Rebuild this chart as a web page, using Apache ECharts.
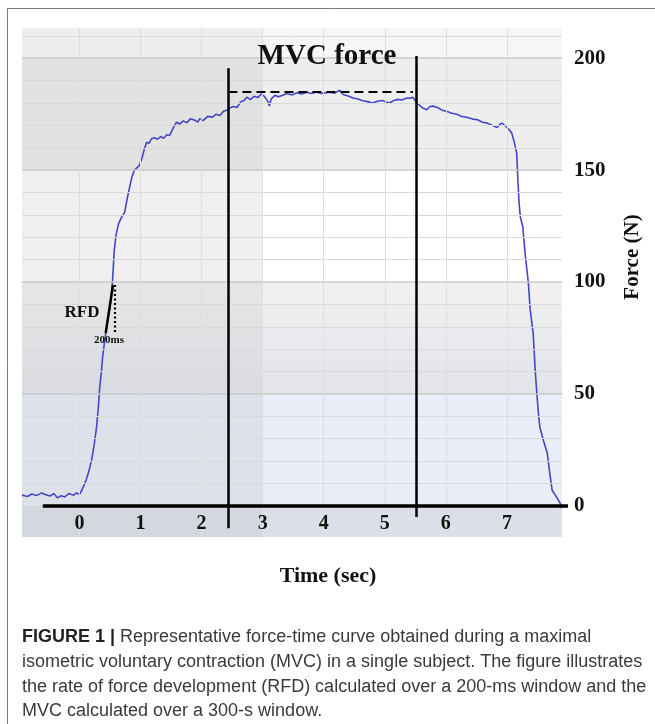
<!DOCTYPE html>
<html>
<head>
<meta charset="utf-8">
<script src="https://cdn.jsdelivr.net/npm/echarts@6.0.0/dist/echarts.min.js"></script>
<style>
  html, body { margin: 0; padding: 0; background: #fff; }
  #main { width: 655px; height: 724px; }
</style>
</head>
<body>
<div id="main"></div>
<script>
// 力-时间曲线
var timeVals = [-0.94,-0.85,-0.78,-0.7,-0.62,-0.55,-0.48,-0.42,-0.36,-0.3,-0.24,-0.17,-0.1,-0.05,0.0,
  0.04,0.08,0.11,0.15,0.2,0.24,0.28,0.31,0.33,0.36,0.38,0.41,0.44,0.47,0.49,0.52,0.54,0.57,0.6,0.64,
  0.69,0.74,0.78,0.82,0.86,0.9,0.94,0.98,1.02,1.06,1.1,1.14,1.18,1.23,1.28,1.33,1.38,1.43,1.48,1.52,
  1.56,1.59,1.64,1.7,1.76,1.82,1.88,1.94,1.97,2.03,2.1,2.18,2.24,2.3,2.36,2.42,2.46,2.52,2.58,2.64,
  2.7,2.74,2.8,2.86,2.92,2.98,3.03,3.06,3.09,3.11,3.14,3.2,3.26,3.33,3.4,3.48,3.56,3.64,3.72,3.8,
  3.88,3.96,4.04,4.1,4.18,4.26,4.32,4.4,4.48,4.56,4.64,4.72,4.8,4.88,4.96,5.02,5.08,5.14,5.2,5.28,
  5.36,5.42,5.46,5.5,5.56,5.62,5.69,5.74,5.79,5.86,5.94,6.02,6.1,6.18,6.26,6.34,6.44,6.52,6.6,6.68,
  6.76,6.84,6.88,6.92,6.98,7.04,7.08,7.12,7.16,7.18,7.2,7.22,7.26,7.3,7.35,7.38,7.43,7.46,7.49,7.52,
  7.54,7.6,7.66,7.7,7.74,7.8,7.87,7.9];
var forceVals = [4.8,4.2,5.3,4.6,5.8,5.0,4.4,5.5,3.6,4.5,4.0,5.6,4.7,5.8,5.2,
  7.0,9.5,11.6,15,20.5,27,35,44,52,60,66.5,73,78.6,84,87.5,93,99.5,114,121,126,
  129,131,137,142,147,150,151,152,155,159,162.5,162,164,164.5,163.8,165,164.2,165.8,165.6,168,
  170,171.4,170.6,172,171.2,173,172.4,171.5,173,172.2,174,173.7,175,174.4,176.3,176.9,177.7,178.4,178,180.5,
  181.2,182.6,181.5,183,182.4,184,182.9,183.5,180.5,178.6,181.8,183.4,182.8,183.5,184.2,183.6,184.6,184,184.8,184.2,
  184.9,184.3,184.6,184.8,184.4,185.7,183.8,183.1,182.2,181.8,181,180.6,180,180.8,181.1,180.4,180,181,181.6,181.3,
  182.2,182.1,182.6,181,179.2,177.8,177,178.4,178.6,178,176.8,176.2,175.4,175,174,173.6,172.8,172.5,171.4,171,
  170,169,170.4,171,169.6,168,166.5,162.5,157.6,145,135,129,124.6,112,100,88,77,62,50,40,
  35,29,23.7,15,7,4.5,1.3,-1];

var xTicks = [0, 1, 2, 3, 4, 5, 6, 7];
var yTicks = [0, 50, 100, 150, 200];
var minorGrid = [10, 20, 30, 40, 60, 70, 80, 90, 110, 120, 130, 140, 160, 170, 180, 190, 210];

// MVC 窗口与 RFD 标注
var mvcWindow = [2.44, 5.51];
var mvcLevel = 184.8;
var rfdLine = [[0.43, 77.2], [0.55, 98.7]];
var rfdDot = [[0.58, 77.7], [0.58, 98.7]];

var X_MIN = -0.94, X_MAX = 8.0, PLOT_END = 7.9, Y_MIN = -13.9, Y_MAX = 213.5;

var curve = timeVals.map(function (t, i) { return [t, forceVals[i]]; });

// 背景色块 (左半 / 右半, 以 3 s 为界)
function band(y0, y1, left, right) {
  return [
    [{ xAxis: X_MIN, yAxis: y1, itemStyle: { color: left } }, { xAxis: 3, yAxis: y0 }],
    [{ xAxis: 3, yAxis: y1, itemStyle: { color: right } }, { xAxis: PLOT_END, yAxis: y0 }]
  ];
}
function grad(a, b) {
  return { type: 'linear', x: 0, y: 0, x2: 0, y2: 1, colorStops: [{ offset: 0, color: a }, { offset: 1, color: b }] };
}
var bands = [].concat(
  band(200, Y_MAX, '#eeeeee', '#f6f6f6'),
  band(150, 200, '#e2e2e2', '#eeeeee'),
  band(100, 150, '#efefef', '#ffffff'),
  band(50, 100, grad('#e6e6e6', '#d9dbe0'), grad('#f1f1f1', '#e2e4ea')),
  band(0, 50, '#dde2ea', '#e9eef8'),
  band(Y_MIN, 0, '#d4d7de', '#dcdfe7')
);

// 网格线 (只在绘图区内)
var gridLines = [];
minorGrid.forEach(function (v) {
  gridLines.push([{ coord: [X_MIN, v], lineStyle: { color: '#dadada', width: 1, type: 'solid' } }, { coord: [PLOT_END, v] }]);
});
yTicks.slice(1).forEach(function (v) {
  gridLines.push([{ coord: [X_MIN, v], lineStyle: { color: '#c8c8c8', width: 1.5, type: 'solid' } }, { coord: [PLOT_END, v] }]);
});
xTicks.forEach(function (v) {
  gridLines.push([{ coord: [v, Y_MIN], lineStyle: { color: '#dedede', width: 1, type: 'solid' } }, { coord: [v, Y_MAX] }]);
});

var serif = 'Liberation Serif';
var myChart = echarts.init(document.getElementById('main'));
option = {
  backgroundColor: '#ffffff',
  animation: false,
  grid: { left: 22, right: 87, top: 28, bottom: 187 },
  xAxis: {
    type: 'value', min: X_MIN, max: X_MAX, offset: -31, z: 10,
    axisLine: { show: false, onZero: false },
    axisTick: { show: false },
    splitLine: { show: false },
    axisLabel: {
      customValues: xTicks, margin: 8,
      color: '#111', fontFamily: serif, fontWeight: 'bold', fontSize: 20
    }
  },
  yAxis: {
    type: 'value', position: 'right', offset: -6, min: Y_MIN, max: Y_MAX,
    axisLine: { show: false, onZero: false },
    axisTick: { show: false },
    splitLine: { show: false },
    axisLabel: {
      customValues: yTicks, margin: 12,
      color: '#111', fontFamily: serif, fontWeight: 'bold', fontSize: 21
    }
  },
  series: [
    {
      // 背景和网格
      type: 'line', z: 1, silent: true, showSymbol: false,
      data: [[0, 0]], lineStyle: { opacity: 0 },
      markArea: { silent: true, data: bands },
      markLine: { silent: true, symbol: 'none', label: { show: false }, data: gridLines }
    },
    {
      name: 'Force', type: 'line', z: 3, showSymbol: false, smooth: false,
      data: curve,
      lineStyle: { color: '#4646c4', width: 1.6 }
    },
    {
      // 标注线
      type: 'line', z: 4, silent: true, showSymbol: false,
      data: [[0, 0]], lineStyle: { opacity: 0 },
      markLine: {
        silent: true, symbol: 'none', label: { show: false },
        data: [
          [{ coord: [-0.6, 0], lineStyle: { color: '#000', width: 3.5, type: 'solid' } }, { coord: [X_MAX, 0] }],
          [{ coord: [mvcWindow[0], -10], lineStyle: { color: '#000', width: 2.5, type: 'solid' } }, { coord: [mvcWindow[0], 195.5] }],
          [{ coord: [mvcWindow[1], -5], lineStyle: { color: '#000', width: 2.5, type: 'solid' } }, { coord: [mvcWindow[1], 201] }],
          [{ coord: [mvcWindow[0], mvcLevel], lineStyle: { color: '#000', width: 2, type: [9, 5] } }, { coord: [5.46, mvcLevel] }],
          [{ coord: rfdLine[0], lineStyle: { color: '#000', width: 2.5, type: 'solid' } }, { coord: rfdLine[1] }],
          [{ coord: rfdDot[0], lineStyle: { color: '#000', width: 2.2, type: [2, 2.5] } }, { coord: rfdDot[1] }]
        ]
      }
    }
  ],
  graphic: [
    { type: 'line', shape: { x1: 7.5, y1: 8.5, x2: 655, y2: 8.5 }, style: { stroke: '#7a7a7a', lineWidth: 1 }, silent: true },
    { type: 'line', shape: { x1: 7.5, y1: 8.5, x2: 7.5, y2: 724 }, style: { stroke: '#7a7a7a', lineWidth: 1 }, silent: true },
    { type: 'text', x: 327, y: 57, z: 10, style: { text: 'MVC force', fill: '#111', font: 'bold 29px "Liberation Serif"', align: 'center', verticalAlign: 'middle' } },
    { type: 'text', x: 82, y: 313, z: 10, style: { text: 'RFD', fill: '#111', font: 'bold 17px "Liberation Serif"', align: 'center', verticalAlign: 'middle' } },
    { type: 'text', x: 109, y: 340, z: 10, style: { text: '200ms', fill: '#111', font: 'bold 11px "Liberation Serif"', align: 'center', verticalAlign: 'middle' } },
    { type: 'text', x: 633, y: 257, rotation: Math.PI / 2, z: 10, style: { text: 'Force (N)', fill: '#111', font: 'bold 21px "Liberation Serif"', align: 'center', verticalAlign: 'middle' } },
    { type: 'text', x: 328, y: 576, z: 10, style: { text: 'Time (sec)', fill: '#111', font: 'bold 22px "Liberation Serif"', align: 'center', verticalAlign: 'middle' } },
    {
      type: 'text', x: 22, y: 625, z: 10,
      style: {
        text: '{b|FIGURE 1 |} Representative force-time curve obtained during a maximal\n' +
          'isometric voluntary contraction (MVC) in a single subject. The figure illustrates\n' +
          'the rate of force development (RFD) calculated over a 200-ms window and the\n' +
          'MVC calculated over a 300-s window.',
        fill: '#3a3a3a', fontFamily: 'Liberation Sans', fontSize: 18, lineHeight: 24.7,
        verticalAlign: 'top',
        rich: { b: { fontFamily: 'Liberation Sans', fontWeight: 'bold', fontSize: 18, fill: '#222', lineHeight: 24.7 } }
      }
    }
  ]
};
myChart.setOption(option);
</script>
</body>
</html>
